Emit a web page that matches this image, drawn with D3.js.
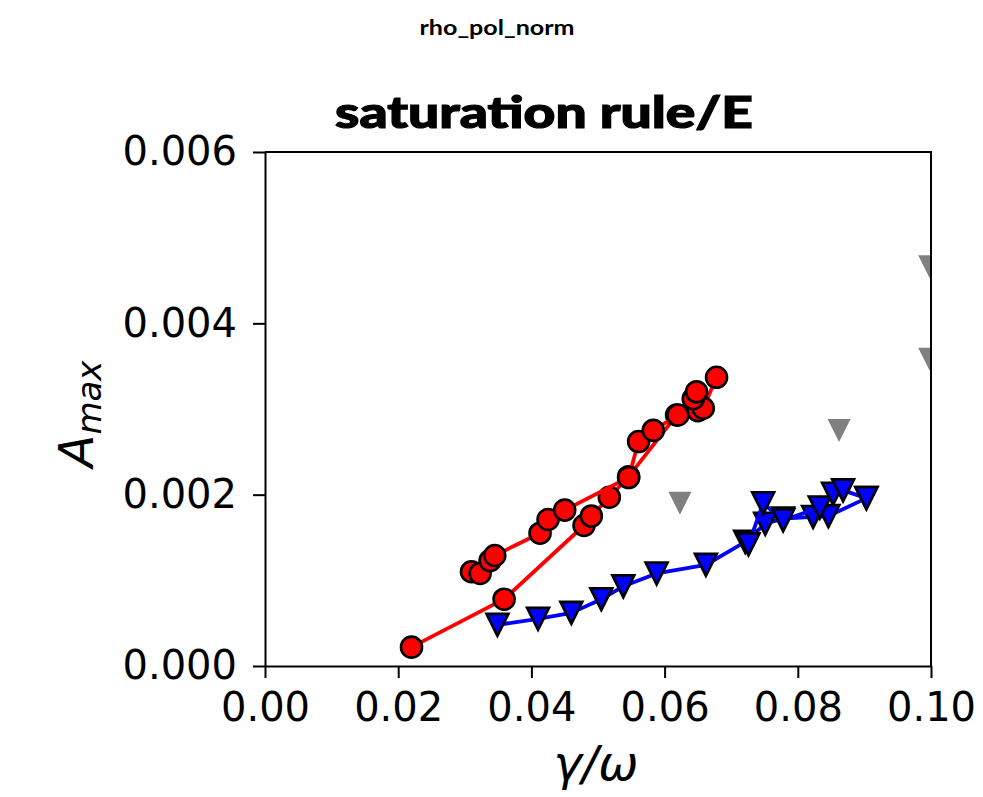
<!DOCTYPE html>
<html lang="en">
  <head>
    <meta charset="UTF-8" />
    <title>saturation rule/E</title>
    <script src="https://d3js.org/d3.v7.min.js"></script>
    <style>
      body { margin: 0; background: #fff; }
      .tick text { font: 40px "DejaVu Sans", sans-serif; fill: #000; }
      .domain, .tick line { stroke: #000; stroke-width: 2; }
    </style>
  </head>
  <body>
    <svg id="chart" width="983" height="797"></svg>
    <script>
      // ticks
      const xTicks = [0, 0.02, 0.04, 0.06, 0.08, 0.1];
      const yTicks = [0, 0.002, 0.004, 0.006];

      // red circles, two branches
      const redAX = [0.0220, 0.0359, 0.0479, 0.0490, 0.0517, 0.0546, 0.0618, 0.0650, 0.0658, 0.0678];
      const redAY = [0.00022, 0.00078, 0.00164, 0.00175, 0.00197, 0.00221, 0.00293, 0.00298, 0.00301, 0.00337];
      const redBX = [0.0310, 0.0323, 0.0338, 0.0345, 0.0413, 0.0425, 0.0450, 0.0546, 0.0561, 0.0583, 0.0620, 0.0643, 0.0648];
      const redBY = [0.00110, 0.00108, 0.00123, 0.00129, 0.00155, 0.00171, 0.00182, 0.00220, 0.00262, 0.00275, 0.00293, 0.00312, 0.00320];

      // blue triangles, two branches
      const blueAX = [0.0349, 0.0410, 0.0460, 0.0505, 0.0538, 0.0588, 0.0662, 0.0721, 0.0751, 0.0778, 0.0823, 0.0846, 0.0903];
      const blueAY = [0.00048, 0.00055, 0.00062, 0.00078, 0.00093, 0.00108, 0.00118, 0.00145, 0.00166, 0.00172, 0.00174, 0.00175, 0.00196];
      const blueBX = [0.0726, 0.0748, 0.0778, 0.0833, 0.0853, 0.0868, 0.0903];
      const blueBY = [0.00142, 0.00190, 0.00170, 0.00185, 0.00201, 0.00205, 0.00196];

      // gray triangles (no line)
      const grayX = [0.0623, 0.0862, 0.0998, 0.0998];
      const grayY = [0.00190, 0.00275, 0.00466, 0.00358];

      const width = 983;
      const height = 797;
      const margin = { top: 152, right: 52, bottom: 131, left: 265 };

      const svg = d3.select("#chart");

      const x = d3.scaleLinear().domain([0, 0.1]).range([margin.left, width - margin.right]);
      const y = d3.scaleLinear().domain([0, 0.006]).range([height - margin.bottom, margin.top]);

      svg.append("defs").append("clipPath").attr("id", "plot-clip")
        .append("rect")
        .attr("x", x(0)).attr("y", y(0.006))
        .attr("width", x(0.1) - x(0)).attr("height", y(0) - y(0.006));

      // matplotlib-style "v" marker: apex down, bbox-centred
      const triDown = {
        draw(ctx, size) {
          const r = Math.sqrt(size) / 2;
          ctx.moveTo(0, r);
          ctx.lineTo(-r, -r);
          ctx.lineTo(r, -r);
          ctx.closePath();
        },
      };

      const plot = svg.append("g").attr("clip-path", "url(#plot-clip)");
      const line = d3.line().x((d) => x(d[0])).y((d) => y(d[1]));

      function series(xs, ys, opts) {
        const pts = xs.map((v, i) => [v, ys[i]]);
        if (opts.line) {
          plot.append("path").datum(pts)
            .attr("d", line)
            .attr("fill", "none")
            .attr("stroke", opts.line)
            .attr("stroke-width", 3.8)
            .attr("stroke-linejoin", "round");
        }
        plot.append("g").selectAll("path").data(pts).join("path")
          .attr("transform", (d) => `translate(${x(d[0])},${y(d[1])})`)
          .attr("d", d3.symbol().type(opts.symbol).size(opts.size))
          .attr("fill", opts.fill)
          .attr("stroke", opts.edge || "none")
          .attr("stroke-width", opts.edge ? 2.6 : 0);
      }

      series(grayX, grayY, { symbol: triDown, size: 23 * 23, fill: "#808080" });
      series(redAX, redAY, { line: "#ff0000", symbol: d3.symbolCircle, size: Math.PI * 10.5 * 10.5, fill: "#ff0000", edge: "#000" });
      series(redBX, redBY, { line: "#ff0000", symbol: d3.symbolCircle, size: Math.PI * 10.5 * 10.5, fill: "#ff0000", edge: "#000" });
      series(blueAX, blueAY, { line: "#0000ff", symbol: triDown, size: 22 * 22, fill: "#0000ff", edge: "#000" });
      series(blueBX, blueBY, { line: "#0000ff", symbol: triDown, size: 22 * 22, fill: "#0000ff", edge: "#000" });

      // axes
      svg.append("g")
        .attr("transform", `translate(0,${y(0)})`)
        .call(d3.axisBottom(x).tickValues(xTicks).tickFormat(d3.format(".2f")).tickSize(12).tickPadding(15).tickSizeOuter(0));

      svg.append("g")
        .attr("transform", `translate(${x(0)},0)`)
        .call(d3.axisLeft(y).tickValues(yTicks).tickFormat(d3.format(".3f")).tickSize(12).tickPadding(16).tickSizeOuter(0));

      // top and right spines
      svg.append("path")
        .attr("d", `M${x(0)},${y(0.006)}H${x(0.1)}V${y(0)}`)
        .attr("fill", "none")
        .attr("stroke", "#000")
        .attr("stroke-width", 2);

      // titles
      svg.append("text")
        .attr("x", 497).attr("y", 35)
        .attr("text-anchor", "middle")
        .attr("textLength", 155).attr("lengthAdjust", "spacingAndGlyphs")
        .style("font", "bold 21px Lato, sans-serif")
        .text("rho_pol_norm");

      svg.append("text")
        .attr("x", 544).attr("y", 128)
        .attr("text-anchor", "middle")
        .attr("textLength", 418).attr("lengthAdjust", "spacingAndGlyphs")
        .attr("stroke", "#000").attr("stroke-width", 1.2)
        .style("font", "900 44px Lato, sans-serif")
        .text("saturation rule/E");

      // axis labels
      const yl = svg.append("text")
        .attr("transform", "translate(93,414) rotate(-90)")
        .attr("text-anchor", "middle")
        .style("font", "italic 48px 'DejaVu Sans', sans-serif");
      yl.append("tspan").text("A");
      yl.append("tspan").attr("dy", 8).style("font-size", "34px").text("max");

      svg.append("text")
        .attr("x", 596).attr("y", 780)
        .attr("text-anchor", "middle")
        .style("font", "italic 48px 'DejaVu Sans', sans-serif")
        .text("γ/ω");
    </script>
  </body>
</html>
